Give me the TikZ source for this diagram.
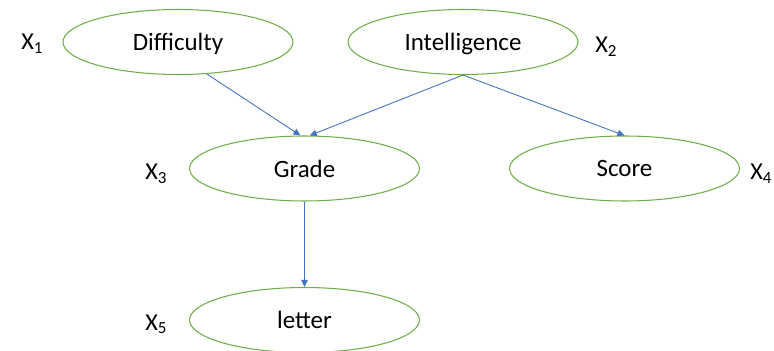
\documentclass[tikz,border=0pt]{standalone}
\usepackage{fontspec}
\setmainfont{Carlito}
\usetikzlibrary{shapes.geometric,arrows.meta}
\definecolor{nodegreen}{RGB}{112,173,71}
\definecolor{edgeblue}{RGB}{68,114,196}

\begin{document}
\begin{tikzpicture}[x=0.02cm,y=-0.02cm,
    randvar/.style ={ellipse, draw=nodegreen, line width=0.6pt, minimum width=4.6cm, minimum height=1.3cm, inner sep=0pt, text depth=0pt, font=\fontsize{14.2}{16}\selectfont},
    varlabel/.style ={anchor=base west, inner sep=0pt, font=\fontsize{13.8}{16}\selectfont},
    influence/.style ={draw=edgeblue, line width=0.5pt, -{Triangle[length=4pt,width=3.6pt]}, edgeblue}]
   \useasboundingbox (0,0) rectangle (774,351);
   \node[randvar] (D) at (178,42)  {Difficulty};
   \node[randvar] (I) at (463,42)  {Intelligence};
   \node[randvar] (G) at (304.5,168.5)  {Grade};
   \node[randvar] (S) at (624.5,168.5)  {Score};
   \node[randvar] (L) at (304.5,320)  {letter};
   \node[varlabel] (x1) at (21,50)  {X\textsubscript{1}};
   \node[varlabel] (x2) at (595,53)  {X\textsubscript{2}};
   \node[varlabel] (x3) at (145,180)  {X\textsubscript{3}};
   \node[varlabel] (x4) at (750,180)  {X\textsubscript{4}};
   \node[varlabel] (x5) at (145,330)  {X\textsubscript{5}};
   \draw[influence] (D.-48) to  (G.97);
   \draw[influence] (I.south) to  (G.81);
   \draw[influence] (I.south) to  (S.north);
      \draw[influence] (G.south) to (L.north);
 \end{tikzpicture}
\end{document}
